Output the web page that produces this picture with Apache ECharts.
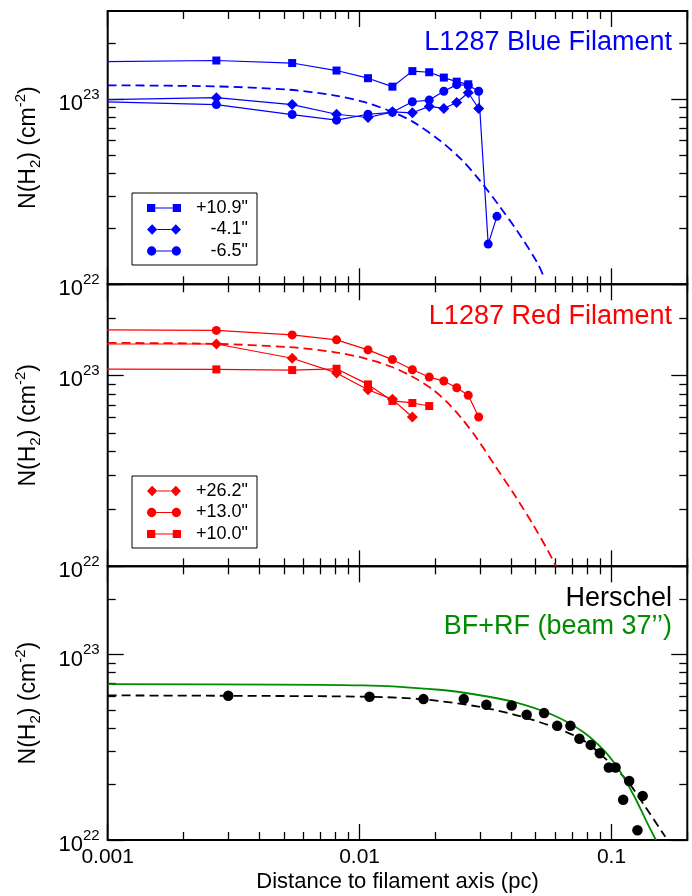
<!DOCTYPE html>
<html>
<head>
<meta charset="utf-8">
<script src="https://cdn.jsdelivr.net/npm/echarts@6/dist/echarts.min.js"></script>
<style>
  html, body { margin: 0; padding: 0; background: #fff; }
  #chart { width: 692px; height: 896px; }
</style>
</head>
<body>
<div id="chart"></div>
<script>
// ---- Data -------------------------------------------------------------
// Distance to the filament axis (pc) of the successive cut positions
const cutOffsets = [0.0005, 0.0027, 0.0054, 0.0081, 0.0108, 0.0135, 0.0162, 0.0189, 0.0216, 0.0243, 0.0270, 0.0297, 0.0324, 0.0351];

// Blue filament cuts, N(H2) in cm^-2
const blueCut109 = [1.585e23, 1.62e23, 1.57e23, 1.43e23, 1.30e23, 1.17e23, 1.42e23, 1.40e23, 1.31e23, 1.245e23, 1.205e23];
const blueCut41  = [9.8e22, 1.02e23, 9.36e22, 8.3e22, 7.97e22, 8.55e22, 8.45e22, 9.15e22, 8.92e22, 9.6e22, 1.085e23, 8.92e22];
const blueCut65  = [9.9e22, 9.36e22, 8.27e22, 7.71e22, 8.3e22, 8.5e22, 9.7e22, 9.9e22, 1.105e23, 1.2e23, 1.19e23, 1.105e23, 1.65e22, 2.33e22];
// Blue filament model profile
const blueModelX = [0.001, 0.00262, 0.00522, 0.0079, 0.0104, 0.01346, 0.0163, 0.0207, 0.02547, 0.03026, 0.03594, 0.04271, 0.05073, 0.0543];
const blueModelY = [1.19e23, 1.175e23, 1.127e23, 1.05e23, 9.67e22, 8.55e22, 7.55e22, 6.03e22, 4.70e22, 3.59e22, 2.64e22, 1.90e22, 1.31e22, 1.07e22];

// Red filament cuts
const redCut262 = [1.46e23, 1.46e23, 1.23e23, 1.03e23, 8.41e22, 7.49e22, 6.05e22];
const redCut130 = [1.74e23, 1.72e23, 1.63e23, 1.535e23, 1.36e23, 1.21e23, 1.07e23, 9.8e22, 9.34e22, 8.62e22, 7.86e22, 6.05e22];
const redCut100 = [1.08e23, 1.075e23, 1.066e23, 1.083e23, 8.97e22, 7.35e22, 7.17e22, 6.91e22];
// Red filament model profile
const redModelX = [0.001, 0.00262, 0.00522, 0.0079, 0.0104, 0.01346, 0.0163, 0.01934, 0.0222, 0.02547, 0.02924, 0.03474, 0.04126, 0.049, 0.05626, 0.06026];
const redModelY = [1.48e23, 1.464e23, 1.406e23, 1.325e23, 1.232e23, 1.106e23, 9.8e22, 8.51e22, 7.26e22, 5.94e22, 4.67e22, 3.32e22, 2.36e22, 1.64e22, 1.19e22, 1.0e22];

// Herschel profile
const herschelX = [0.00301, 0.01095, 0.01793, 0.02592, 0.03186, 0.04015, 0.04606, 0.054, 0.06088, 0.0687, 0.0746, 0.0827, 0.0899, 0.0976, 0.1038, 0.1176, 0.1113, 0.133, 0.1268];
const herschelY = [6.0e22, 5.93e22, 5.76e22, 5.76e22, 5.37e22, 5.32e22, 4.74e22, 4.84e22, 4.13e22, 4.13e22, 3.52e22, 3.26e22, 2.94e22, 2.46e22, 2.46e22, 2.08e22, 1.65e22, 1.73e22, 1.13e22];
const herschelFitX = [0.001, 0.00301, 0.01095, 0.01793, 0.02924, 0.04126, 0.05823, 0.07672, 0.09432, 0.116, 0.1377, 0.1636];
const herschelFitY = [6.03e22, 6.0e22, 5.93e22, 5.74e22, 5.26e22, 4.74e22, 4.10e22, 3.47e22, 2.76e22, 2.07e22, 1.48e22, 1.04e22];
// Combined BF+RF model convolved with the 37" beam
const beamModelX = [0.001, 0.0104, 0.0207, 0.02924, 0.04126, 0.05823, 0.07672, 0.09432, 0.1082, 0.1243, 0.1377, 0.1501];
const beamModelY = [6.94e22, 6.83e22, 6.47e22, 6.08e22, 5.55e22, 4.74e22, 3.85e22, 3.0e22, 2.34e22, 1.68e22, 1.26e22, 1.0e22];

// Axes
const xRange = [0.001, 0.2];
const yRange = [1e22, 3e23];
const xMajorTicks = [0.001, 0.01, 0.1];
const xTickLabels = ['0.001', '0.01', '0.1'];
const yMajorTicks = [1e22, 1e23];
const yTickExponents = ['22', '23'];

// ---- Helpers ----------------------------------------------------------
const FONT = 'Liberation Sans, Arial, Helvetica, sans-serif';
const BLUE = '#0000ff', RED = '#ff0000', GREEN = '#008c00';

function minorTicks(decades, lo, hi) {
  const out = [];
  decades.forEach(d => {
    for (let m = 2; m <= 9; m++) {
      const v = +(d * m).toPrecision(6);
      if (v > lo && v <= hi) out.push(v);
    }
  });
  return out;
}
const xMinorTicks = minorTicks([0.001, 0.01, 0.1], xRange[0], xRange[1]);
const yMinorTicks = minorTicks([1e22, 1e23], yRange[0], yRange[1]);

function zip(xs, ys) { return ys.map((y, i) => [xs[i], y]); }

const panelBoxes = [
  { top: 11, height: 273.3 },
  { top: 284.3, height: 282 },
  { top: 566.3, height: 273.7 }
];

const grid = panelBoxes.map(b => ({
  left: 107.7, right: 4.7, top: b.top, height: b.height,
  show: true, borderColor: '#000', borderWidth: 2, backgroundColor: 'transparent',
  containLabel: false, outerBoundsMode: 'none'
}));

const tickStyle = { color: '#000', width: 1.3 };
const yLabelRich = {
  b: { fontSize: 22, lineHeight: 34, fontFamily: FONT, color: '#000' },
  s: { fontSize: 15, lineHeight: 15, fontFamily: FONT, color: '#000', verticalAlign: 'top' }
};
const nameRich = {
  n: { fontSize: 23, fontFamily: FONT, color: '#000', lineHeight: 30 },
  sub: { fontSize: 15, fontFamily: FONT, color: '#000', lineHeight: 14, verticalAlign: 'bottom' },
  sup: { fontSize: 15, fontFamily: FONT, color: '#000', lineHeight: 15, verticalAlign: 'top' }
};

const xAxis = [], yAxis = [];
panelBoxes.forEach((b, g) => {
  const last = g === panelBoxes.length - 1;
  ['bottom', 'top'].forEach(pos => {
    [true, false].forEach(major => {
      const ax = {
        type: 'log', logBase: 10, gridIndex: g, position: pos,
        min: xRange[0], max: xRange[1],
        axisLine: { show: false }, splitLine: { show: false },
        axisTick: { show: true, inside: true, length: major ? 16 : 8,
                    customValues: major ? xMajorTicks : xMinorTicks, lineStyle: tickStyle },
        axisLabel: { show: false }
      };
      if (last && pos === 'bottom' && major) {
        ax.axisLabel = {
          show: true, customValues: xMajorTicks, margin: 7,
          formatter: v => xTickLabels[xMajorTicks.findIndex(t => Math.abs(t - v) / t < 1e-6)],
          fontSize: 21, fontFamily: FONT, color: '#000'
        };
        ax.name = 'Distance to filament axis (pc)';
        ax.nameLocation = 'middle';
        ax.nameGap = 31;
        ax.nameTextStyle = { fontSize: 22, fontFamily: FONT, color: '#000' };
      }
      xAxis.push(ax);
    });
  });
  ['left', 'right'].forEach(pos => {
    [true, false].forEach(major => {
      const ax = {
        type: 'log', logBase: 10, gridIndex: g, position: pos,
        min: yRange[0], max: yRange[1],
        axisLine: { show: false }, splitLine: { show: false },
        axisTick: { show: true, inside: true, length: major ? 16 : 8,
                    customValues: major ? yMajorTicks : yMinorTicks, lineStyle: tickStyle },
        axisLabel: { show: false }
      };
      if (pos === 'left' && major) {
        ax.axisLabel = {
          show: true, customValues: yMajorTicks, margin: 8, padding: [10, 0, 0, 0],
          formatter: v => '{b|10}{s|' + yTickExponents[yMajorTicks.findIndex(t => Math.abs(t - v) / t < 1e-6)] + '}',
          rich: yLabelRich
        };
        ax.name = '{n|N(H}{sub|2}{n|) (cm}{sup|-2}{n|)}';
        ax.nameLocation = 'middle';
        ax.nameRotate = 90;
        ax.nameGap = 64;
        ax.nameTextStyle = { rich: nameRich, fontFamily: FONT, color: '#000' };
      }
      yAxis.push(ax);
    });
  });
});

// Legend icons: two markers joined by a line segment (33 x 10 units)
const iconRect = 'path://M0,1h8v8h-8z M8,4.4h17v1.2h-17z M25,1h8v8h-8z M0,0 M0,10';
const iconDiamond = 'path://M5,0L10,5L5,10L0,5Z M10,4.4h13v1.2h-13z M28,0L33,5L28,10L23,5Z';
const iconCircle = 'path://M0,5a4.5,4.5 0 1,0 9,0a4.5,4.5 0 1,0 -9,0z M9,4.4h15v1.2h-15z M24,5a4.5,4.5 0 1,0 9,0a4.5,4.5 0 1,0 -9,0z M0,0 M0,10';

function cutSeries(name, values, g, color, symbol, size) {
  return {
    name, type: 'line', xAxisIndex: 4 * g, yAxisIndex: 4 * g,
    data: zip(cutOffsets, values),
    symbol, symbolSize: size, showSymbol: true, clip: true,
    itemStyle: { color, opacity: 1 }, lineStyle: { color, width: 1.2 }, z: 3
  };
}
function modelSeries(xs, ys, g, color, dashed) {
  return {
    type: 'line', xAxisIndex: 4 * g, yAxisIndex: 4 * g,
    data: zip(xs, ys), symbol: 'none', smooth: 0.3, clip: true,
    lineStyle: { color, width: 1.8, type: dashed ? [9, 5] : 'solid' }, z: 2
  };
}

const legendBase = {
  orient: 'vertical', left: 132,
  padding: [6, 9, 5, 15], itemWidth: 34, itemHeight: 11, itemGap: 3.5,
  borderColor: '#000', borderWidth: 1, backgroundColor: '#fff',
  selectedMode: false,
  formatter: n => '{r|' + n + '}',
  textStyle: { fontSize: 18, fontFamily: FONT, color: '#000',
               rich: { r: { width: 62, align: 'right', fontSize: 18, lineHeight: 20, fontFamily: FONT, color: '#000' } } }
};

const titleStyle = c => ({ color: c, fontSize: 27, fontWeight: 'normal', fontFamily: FONT });

const option = {
  animation: false,
  backgroundColor: '#fff',
  title: [
    { text: 'L1287 Blue Filament', right: 15, top: 24, textStyle: titleStyle(BLUE) },
    { text: 'L1287 Red Filament', right: 15, top: 298, textStyle: titleStyle(RED) },
    { text: 'Herschel', right: 15, top: 580, textStyle: titleStyle('#000') },
    { text: 'BF+RF (beam 37\u2019\u2019)', right: 15, top: 608, textStyle: titleStyle(GREEN) }
  ],
  legend: [
    Object.assign({}, legendBase, { top: 193, data: [
      { name: '+10.9"', icon: iconRect },
      { name: '-4.1"', icon: iconDiamond },
      { name: '-6.5"', icon: iconCircle }
    ] }),
    Object.assign({}, legendBase, { top: 476, data: [
      { name: '+26.2"', icon: iconDiamond },
      { name: '+13.0"', icon: iconCircle },
      { name: '+10.0"', icon: iconRect }
    ] })
  ],
  grid, xAxis, yAxis,
  series: [
    modelSeries(blueModelX, blueModelY, 0, BLUE, true),
    cutSeries('+10.9"', blueCut109, 0, BLUE, 'rect', 8),
    cutSeries('-4.1"', blueCut41, 0, BLUE, 'diamond', 11),
    cutSeries('-6.5"', blueCut65, 0, BLUE, 'circle', 9),

    modelSeries(redModelX, redModelY, 1, RED, true),
    cutSeries('+26.2"', redCut262, 1, RED, 'diamond', 11),
    cutSeries('+13.0"', redCut130, 1, RED, 'circle', 9),
    cutSeries('+10.0"', redCut100, 1, RED, 'rect', 8),

    modelSeries(herschelFitX, herschelFitY, 2, '#000', true),
    modelSeries(beamModelX, beamModelY, 2, GREEN, false),
    {
      name: 'Herschel', type: 'scatter', xAxisIndex: 8, yAxisIndex: 8,
      data: zip(herschelX, herschelY), symbol: 'circle', symbolSize: 10.5,
      itemStyle: { color: '#000', opacity: 1 }, z: 3
    }
  ]
};

const chart = echarts.init(document.getElementById('chart'), null, { renderer: 'canvas' });
chart.setOption(option);
</script>
</body>
</html>
